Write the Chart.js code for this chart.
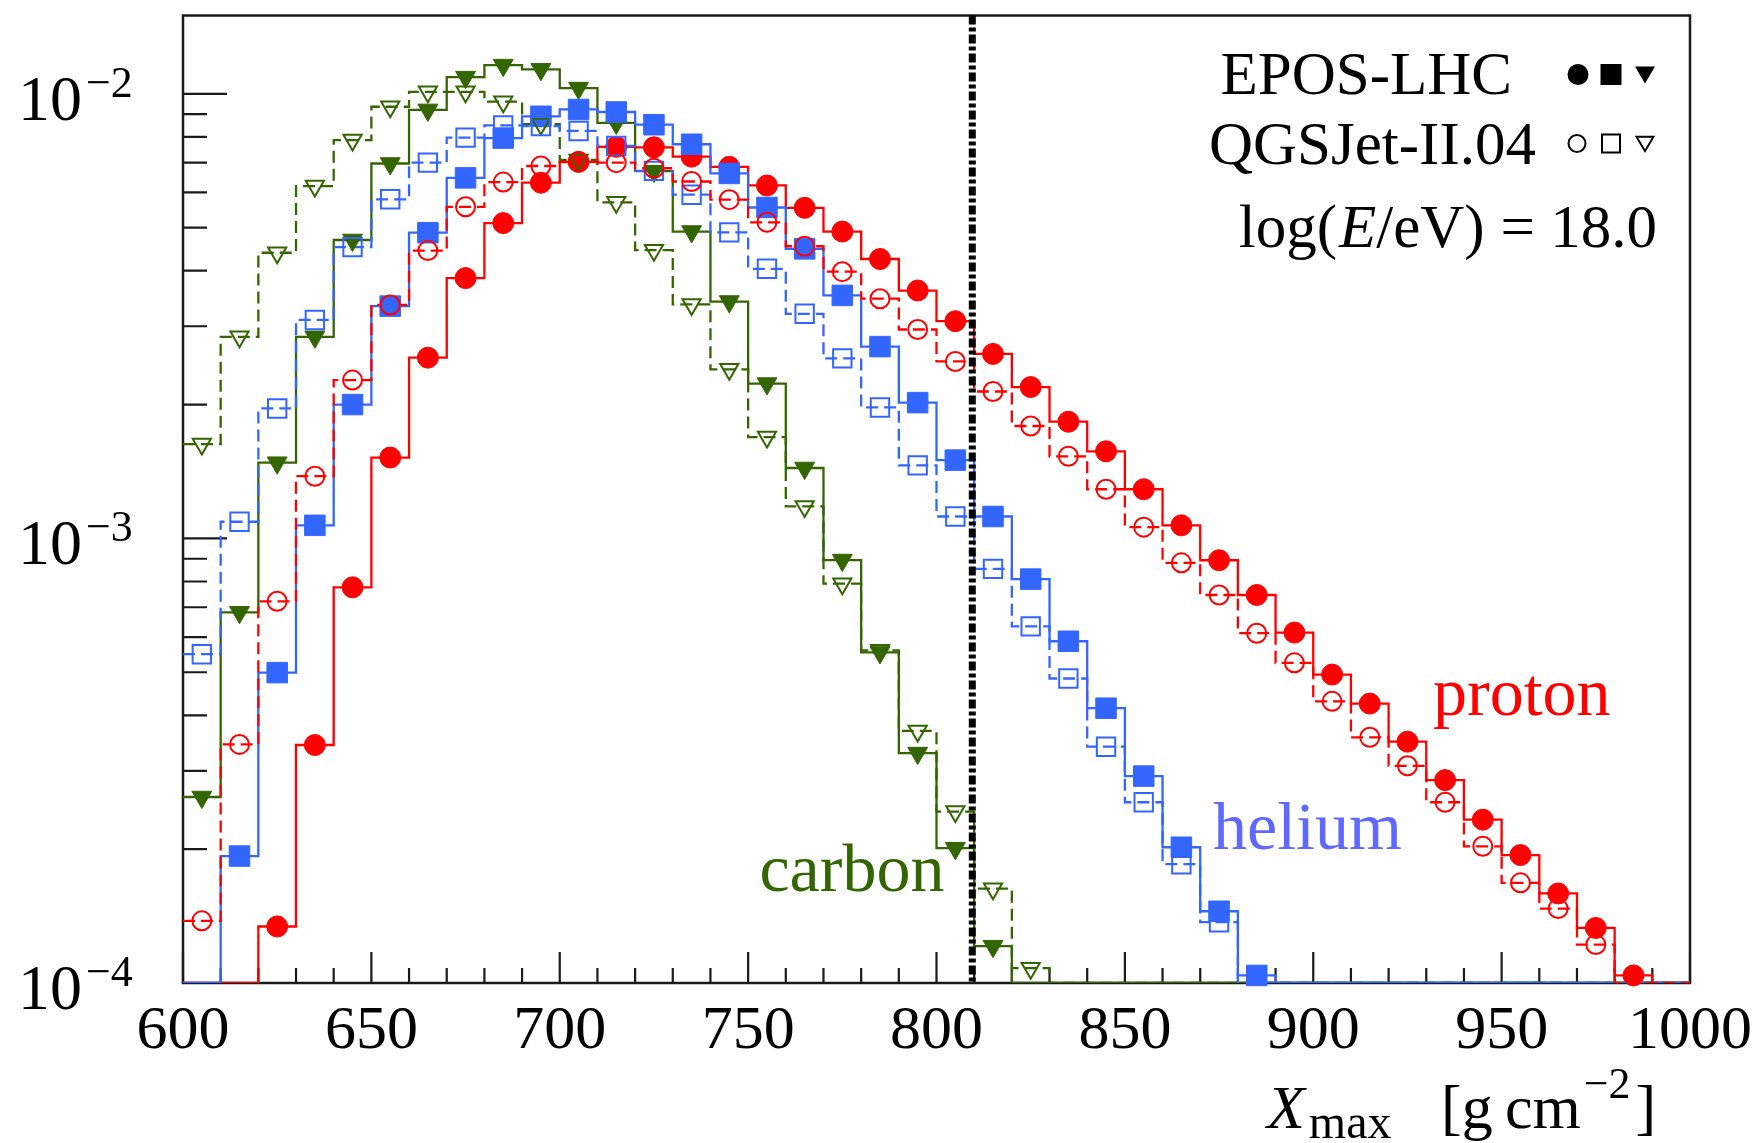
<!DOCTYPE html>
<html>
<head>
<meta charset="utf-8">
<script src="https://cdn.jsdelivr.net/npm/chart.js@4.4.1/dist/chart.umd.min.js"></script>
<style>
html,body{margin:0;padding:0;background:#fff}
canvas{display:block}
</style>
</head>
<body>
<canvas id="c" width="1758" height="1143"></canvas>
<script>

// Xmax bins (10 g/cm2 wide), value 0 = below the plotted range
const binCenters = [605,615,625,635,645,655,665,675,685,695,705,715,725,735,745,755,765,775,785,795,
805,815,825,835,845,855,865,875,885,895,905,915,925,935,945,955,965,975,985,995]
const binWidth = 10

const eposProton = [0,0,1.34e-4,3.43e-4,7.76e-4,1.52e-3,2.55e-3,3.85e-3,5.12e-3,6.31e-3,
7.03e-3,7.6e-3,7.58e-3,7.22e-3,6.85e-3,6.22e-3,5.54e-3,4.90e-3,4.25e-3,3.61e-3,
3.08e-3,2.60e-3,2.19e-3,1.83e-3,1.57e-3,1.29e-3,1.07e-3,8.93e-4,7.46e-4,6.14e-4,
4.94e-4,4.25e-4,3.49e-4,2.86e-4,2.33e-4,1.94e-4,1.59e-4,1.33e-4,1.04e-4,0]

const qgsProton = [1.38e-4,3.44e-4,7.22e-4,1.38e-3,2.27e-3,3.35e-3,4.44e-3,5.57e-3,6.33e-3,6.88e-3,
7.02e-3,7.0e-3,6.8e-3,6.35e-3,5.78e-3,5.14e-3,4.54e-3,3.98e-3,3.46e-3,2.95e-3,
2.50e-3,2.14e-3,1.79e-3,1.53e-3,1.29e-3,1.06e-3,8.81e-4,7.46e-4,6.12e-4,5.25e-4,
4.30e-4,3.57e-4,3.08e-4,2.55e-4,2.03e-4,1.68e-4,1.47e-4,1.22e-4,0,0]

const eposHelium = [0,1.93e-4,4.99e-4,1.07e-3,2.0e-3,3.33e-3,4.87e-3,6.47e-3,7.95e-3,8.9e-3,
9.22e-3,9.10e-3,8.52e-3,7.7e-3,6.62e-3,5.55e-3,4.48e-3,3.52e-3,2.70e-3,2.02e-3,
1.50e-3,1.12e-3,8.10e-4,5.87e-4,4.15e-4,2.92e-4,2.02e-4,1.45e-4,1.04e-4,0,
0,0,0,0,0,0,0,0,0,0]

const qgsHelium = [5.49e-4,1.09e-3,1.96e-3,3.10e-3,4.52e-3,5.79e-3,7.0e-3,7.97e-3,8.49e-3,8.46e-3,
8.25e-3,7.63e-3,6.71e-3,5.93e-3,4.88e-3,4.04e-3,3.20e-3,2.54e-3,1.97e-3,1.46e-3,
1.12e-3,8.54e-4,6.34e-4,4.84e-4,3.40e-4,2.55e-4,1.85e-4,1.37e-4,0,0,
0,0,0,0,0,0,0,0,0,0]

const eposCarbon = [2.62e-4,6.82e-4,1.48e-3,2.84e-3,4.69e-3,6.97e-3,9.2e-3,1.09e-2,1.16e-2,1.135e-2,
1.03e-2,8.6e-3,6.7e-3,4.9e-3,3.41e-3,2.23e-3,1.44e-3,8.94e-4,5.54e-4,3.29e-4,
2.01e-4,1.21e-4,0,0,0,0,0,0,0,0,
0,0,0,0,0,0,0,0,0,0]

const qgsCarbon = [1.63e-3,2.84e-3,4.39e-3,6.20e-3,7.87e-3,9.35e-3,1.01e-2,1.01e-2,9.6e-3,8.55e-3,
7.1e-3,5.7e-3,4.45e-3,3.36e-3,2.40e-3,1.69e-3,1.18e-3,7.91e-4,5.6e-4,3.69e-4,
2.43e-4,1.63e-4,1.08e-4,0,0,0,0,0,0,0,
0,0,0,0,0,0,0,0,0,0]

const xRange = [600,1000]
const yRange = [1e-4,0.015]
const xMajorTicks = [600,650,700,750,800,850,900,950,1000]
const xMinorTicks = [610,620,630,640,660,670,680,690,710,720,730,740,760,770,780,790,
810,820,830,840,860,870,880,890,910,920,930,940,960,970,980,990]
const yMajorTicks = [1e-4,1e-3,1e-2]
const yMinorTicks = [2e-4,3e-4,4e-4,5e-4,6e-4,7e-4,8e-4,9e-4,2e-3,3e-3,4e-3,5e-3,6e-3,7e-3,8e-3,9e-3]
const cutXmax = 809.5

const RED = "#ff0000", BLUE = "#3366ff", GREEN = "#336600"
const SERIF = '"Liberation Serif", "Times New Roman", serif'

// step outline: one point per left bin edge + closing edge, values under range sit on the axis
function stepPoints(values){
const pts = values.map((v,i)=>({x: binCenters[i]-binWidth/2, y: v>0 ? v : yRange[0]}))
const last = values[values.length-1]
pts.push({x: binCenters[binCenters.length-1]+binWidth/2, y: last>0 ? last : yRange[0]})
return pts
}
function markerPoints(values){
return values.map((v,i)=>({x: binCenters[i], y: v>0 ? v : null}))
}

function histLine(values, color, dashed, order){
return {type:"line", data: stepPoints(values), stepped:true, borderColor:color, borderWidth:2.3,
borderDash: dashed ? [12,6] : [], pointRadius:0, fill:false, order:order}
}
function markers(values, color, style, open, order){
const tri = style === "triangle"
return {type:"scatter", data: markerPoints(values), showLine:false, clip:false, order:order,
pointStyle: style, pointRotation: tri ? 180 : 0,
pointRadius: style==="rect" ? (open?13:14.5) : tri ? (open?10.5:11.5) : (open?9.5:10.5),
pointBackgroundColor: open ? "rgba(0,0,0,0)" : color,
pointBorderColor: color, pointBorderWidth: open ? 2 : 1}
}

const seriesLabels = [
{text:"carbon", x:753, y:1.61e-4, color:GREEN},
{text:"helium", x:873.4, y:2.0e-4, color:"#5f68ff"},
{text:"proton", x:931.8, y:4.0e-4, color:RED}
]

function glyph(ctx, kind, x, y, s, open){
ctx.beginPath()
if(kind==="circle") ctx.arc(x, y, s/2, 0, Math.PI*2)
else if(kind==="rect") ctx.rect(x-s/2, y-s/2, s, s)
else { ctx.moveTo(x-s/2, y-s*0.4); ctx.lineTo(x+s/2, y-s*0.4); ctx.lineTo(x, y+s*0.45); ctx.closePath() }
if(open){ ctx.lineWidth = 2; ctx.stroke() } else ctx.fill()
}

const decorations = {
id:"decorations",
beforeDatasetsDraw(chart){
const {ctx, chartArea:a, scales:{x, y}} = chart
ctx.save()
ctx.strokeStyle = "#1a1a1a"
ctx.lineWidth = 2.5
ctx.strokeRect(a.left, a.top, a.right-a.left, a.bottom-a.top)
ctx.lineWidth = 2.2
ctx.beginPath()
xMajorTicks.forEach(v=>{ const p = x.getPixelForValue(v); ctx.moveTo(p, a.bottom); ctx.lineTo(p, a.bottom-31) })
xMinorTicks.forEach(v=>{ const p = x.getPixelForValue(v); ctx.moveTo(p, a.bottom); ctx.lineTo(p, a.bottom-15) })
yMajorTicks.forEach(v=>{ const p = y.getPixelForValue(v); ctx.moveTo(a.left, p); ctx.lineTo(a.left+44, p) })
yMinorTicks.forEach(v=>{ const p = y.getPixelForValue(v); ctx.moveTo(a.left, p); ctx.lineTo(a.left+24, p) })
ctx.stroke()
ctx.restore()
},
afterDatasetsDraw(chart){
const {ctx, chartArea:a, scales:{x, y}} = chart
ctx.save()

// cut line
ctx.strokeStyle = "#000"
ctx.lineWidth = 7
ctx.setLineDash([9,3,4,3])
const cx = x.getPixelForValue(cutXmax)
ctx.beginPath(); ctx.moveTo(cx, a.top); ctx.lineTo(cx, a.bottom); ctx.stroke()
ctx.setLineDash([])

// tick labels
ctx.fillStyle = "#000"
ctx.textBaseline = "alphabetic"
ctx.font = "62px " + SERIF
ctx.textAlign = "center"
xMajorTicks.forEach(v=> ctx.fillText(String(v), x.getPixelForValue(v), a.bottom+65))
ctx.textAlign = "left"
yMajorTicks.forEach(v=>{
const p = y.getPixelForValue(v)
ctx.font = "64px " + SERIF
ctx.fillText("10", 18, p+26)
const w = ctx.measureText("10").width
ctx.font = "44px " + SERIF
ctx.fillText("\u2212" + Math.round(-Math.log10(v)), 18+w+4, p+3)
})

// axis title  X_max [g cm^-2]
const base = a.bottom + 145
let tx = 1267
ctx.font = "italic 62px " + SERIF
ctx.fillText("X", tx, base)
tx += ctx.measureText("X").width + 4
ctx.font = "48px " + SERIF
ctx.fillText("max", tx, base+10)
tx = 1441
ctx.font = "62px " + SERIF
ctx.fillText("[g\u2009cm", tx, base)
tx += ctx.measureText("[g\u2009cm").width + 3
ctx.font = "44px " + SERIF
ctx.fillText("\u22122", tx, base-30)
tx += ctx.measureText("\u22122").width + 5
ctx.font = "62px " + SERIF
ctx.fillText("]", tx, base)

// series names
ctx.font = "68px " + SERIF
seriesLabels.forEach(l=>{
ctx.fillStyle = l.color
ctx.fillText(l.text, x.getPixelForValue(l.x), y.getPixelForValue(l.y))
})

// legend block, top right
ctx.fillStyle = "#000"
ctx.strokeStyle = "#000"
ctx.textAlign = "right"
ctx.font = "61px " + SERIF
ctx.fillText("EPOS-LHC", a.right-178, a.top+78)
ctx.fillText("QGSJet-II.04", a.right-154, a.top+148)
const r3 = a.right-33, b3 = a.top+231
ctx.fillText("= 18.0", r3, b3)
let cur = r3 - ctx.measureText("= 18.0").width - 16
ctx.fillText("/eV)", cur, b3)
cur -= ctx.measureText("/eV)").width
ctx.font = "italic 61px " + SERIF
ctx.fillText("E", cur, b3)
cur -= ctx.measureText("E").width + 2
ctx.font = "61px " + SERIF
ctx.fillText("log(", cur, b3)

const gy1 = a.top+59, gy2 = a.top+128
glyph(ctx, "circle", a.right-112, gy1, 21, false)
glyph(ctx, "rect", a.right-79, gy1, 21, false)
glyph(ctx, "tri", a.right-45, gy1, 20, false)
glyph(ctx, "circle", a.right-113, gy2, 17, true)
glyph(ctx, "rect", a.right-79, gy2, 18, true)
glyph(ctx, "tri", a.right-45, gy2, 17, true)
ctx.restore()
}
}

function draw(){
const ctx = document.getElementById("c").getContext("2d")
new Chart(ctx,{
data:{
datasets:[
markers(qgsProton, RED, "circle", true, 1),
markers(qgsHelium, BLUE, "rect", true, 2),
markers(qgsCarbon, GREEN, "triangle", true, 3),
markers(eposHelium, BLUE, "rect", false, 4),
markers(eposProton, RED, "circle", false, 5),
markers(eposCarbon, GREEN, "triangle", false, 6),
histLine(qgsProton, RED, true, 11),
histLine(eposHelium, BLUE, false, 12),
histLine(qgsHelium, BLUE, true, 13),
histLine(eposProton, RED, false, 14),
histLine(eposCarbon, GREEN, false, 15),
histLine(qgsCarbon, GREEN, true, 16)
]
},
options:{
responsive:false,
animation:false,
devicePixelRatio:1,
layout:{padding:{left:183, right:68, top:11, bottom:160}},
plugins:{legend:{display:false}, tooltip:{enabled:false}},
scales:{
x:{type:"linear", min:xRange[0], max:xRange[1], display:false},
y:{type:"logarithmic", min:yRange[0], max:yRange[1], display:false}
}
},
plugins:[decorations]
})
}

Promise.all([
document.fonts.load("62px " + SERIF),
document.fonts.load("italic 62px " + SERIF)
]).catch(()=>{}).then(draw)

</script>
</body>
</html>
